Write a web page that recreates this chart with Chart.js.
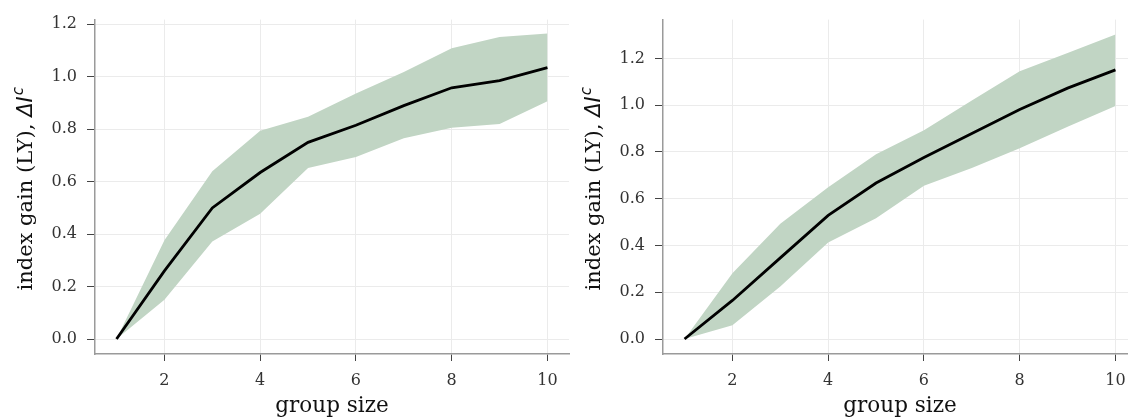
<!DOCTYPE html>
<html>
<head>
<meta charset="utf-8">
<script src="https://cdn.jsdelivr.net/npm/chart.js@4.4.1/dist/chart.umd.min.js"></script>
<style>
  html, body { margin: 0; padding: 0; background: #fff; overflow: hidden; }
  #wrap { position: relative; width: 1128px; height: 419px; overflow: hidden; }
  canvas { position: absolute; top: 0; }
  #left { left: 0; }
  #right { left: 568px; }
</style>
</head>
<body>
<div id="wrap">
  <canvas id="left" width="572" height="419"></canvas>
  <canvas id="right" width="572" height="419"></canvas>
</div>
<script>
// group sizes on the x axis
const groupSize = [1, 2, 3, 4, 5, 6, 7, 8, 9, 10];
const xTicks = [2, 4, 6, 8, 10];
const yTicks = [0, 0.2, 0.4, 0.6, 0.8, 1.0, 1.2];

// left panel
const meanLeft  = [0, 0.26, 0.50, 0.635, 0.75, 0.815, 0.89, 0.958, 0.985, 1.035];
const upperLeft = [0, 0.377, 0.64, 0.794, 0.848, 0.936, 1.018, 1.109, 1.152, 1.165];
const lowerLeft = [0, 0.150, 0.372, 0.478, 0.652, 0.694, 0.766, 0.806, 0.820, 0.907];

// right panel
const meanRight  = [0, 0.165, 0.347, 0.529, 0.667, 0.776, 0.879, 0.982, 1.073, 1.151];
const upperRight = [0, 0.281, 0.493, 0.649, 0.79, 0.893, 1.02, 1.145, 1.223, 1.302];
const lowerRight = [0, 0.059, 0.225, 0.413, 0.516, 0.656, 0.731, 0.816, 0.908, 0.997];

const xTitle = 'group size';
// y title: plain part, then the math symbol ΔI with superscript c
const yTitleText = 'index gain (LY), ';
const yTitleSym = 'ΔI';
const yTitleSup = 'c';

const bandColor = '#c1d5c4';
const gridColor = '#ebebeb';
const spineColor = '#9a9a9a';
const tickColor = '#444444';
const textColor = '#333333';
const serif = "'DejaVu Serif', serif";

const toPoints = (values) => values.map((v, i) => ({ x: groupSize[i], y: v }));

// draws the rotated y axis title with mixed fonts
const yTitlePlugin = {
  id: 'yTitle',
  afterDraw(chart) {
    const ctx = chart.ctx;
    const area = chart.chartArea;
    const cy = (area.top + area.bottom) / 2 + 2;
    const f1 = "21px 'DejaVu Serif'";
    const f2 = "italic 21px 'DejaVu Sans'";
    const f3 = "italic 15px 'DejaVu Sans'";
    ctx.save();
    ctx.fillStyle = '#111111';
    ctx.textBaseline = 'alphabetic';
    ctx.textAlign = 'left';
    ctx.font = f1; const w1 = ctx.measureText(yTitleText).width;
    ctx.font = f2; const w2 = ctx.measureText(yTitleSym).width;
    ctx.font = f3; const w3 = ctx.measureText(yTitleSup).width;
    const total = w1 + w2 + w3 + 1;
    ctx.translate(32, cy);
    ctx.rotate(-Math.PI / 2);
    let u = -total / 2;
    ctx.font = f1; ctx.fillText(yTitleText, u, 0); u += w1;
    ctx.font = f2; ctx.fillText(yTitleSym, u, 0); u += w2 + 1;
    ctx.font = f3; ctx.fillText(yTitleSup, u, -9);
    ctx.restore();
  }
};

function makeChart(canvasId, mean, upper, lower, yMin, yMax) {
  const ctx = document.getElementById(canvasId).getContext('2d');
  return new Chart(ctx, {
    type: 'line',
    plugins: [yTitlePlugin],
    data: {
      datasets: [
        {
          label: 'mean',
          data: toPoints(mean),
          borderColor: '#000000',
          borderWidth: 2.8,
          pointRadius: 0,
          tension: 0,
          fill: false
        },
        {
          label: 'upper',
          data: toPoints(upper),
          borderWidth: 0,
          borderColor: 'rgba(0,0,0,0)',
          backgroundColor: bandColor,
          pointRadius: 0,
          tension: 0,
          fill: '+1'
        },
        {
          label: 'lower',
          data: toPoints(lower),
          borderWidth: 0,
          borderColor: 'rgba(0,0,0,0)',
          pointRadius: 0,
          tension: 0,
          fill: false
        }
      ]
    },
    options: {
      responsive: false,
      animation: false,
      layout: { padding: { top: 17, right: 3, bottom: 0, left: 0 } },
      plugins: {
        legend: { display: false },
        tooltip: { enabled: false }
      },
      scales: {
        x: {
          type: 'linear',
          min: 0.55,
          max: 10.45,
          afterBuildTicks: (scale) => { scale.ticks = xTicks.map(v => ({ value: v })); },
          afterFit: (scale) => { scale.height = 65; },
          grid: { color: gridColor, tickColor: tickColor, tickLength: 7, lineWidth: 1 },
          border: { display: true, color: spineColor, width: 1.5 },
          ticks: {
            color: textColor,
            padding: 10,
            maxRotation: 0,
            font: { family: serif, size: 16 },
            callback: (v) => String(v)
          },
          title: {
            display: true,
            text: xTitle,
            color: '#111111',
            padding: { top: 0, bottom: 0 },
            font: { family: serif, size: 21.5 }
          }
        },
        y: {
          min: yMin,
          max: yMax,
          afterBuildTicks: (scale) => { scale.ticks = yTicks.map(v => ({ value: v })); },
          afterFit: (scale) => { scale.width = 95; },
          grid: { color: gridColor, tickColor: tickColor, tickLength: 8, lineWidth: 1 },
          border: { display: true, color: spineColor, width: 1.5 },
          ticks: {
            color: textColor,
            padding: 10,
            font: { family: serif, size: 16 },
            callback: (v) => v.toFixed(1)
          },
          title: { display: false }
        }
      }
    }
  });
}

makeChart('left', meanLeft, upperLeft, lowerLeft, -0.057, 1.218);
makeChart('right', meanRight, upperRight, lowerRight, -0.064, 1.366);
</script>
</body>
</html>
